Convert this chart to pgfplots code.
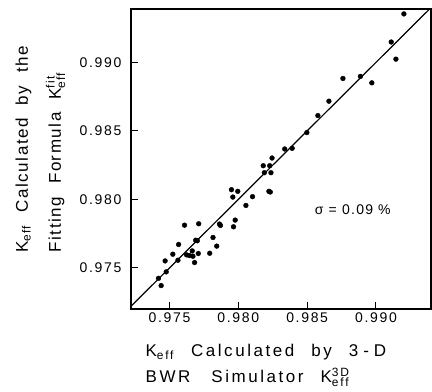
\documentclass[border=0pt]{standalone}
\usepackage{fontspec}
\setmainfont{Liberation Sans}[LetterSpace=9]
\newfontfamily\tickfont{Liberation Sans}[LetterSpace=12]
\newfontfamily\xlabfont{Liberation Sans}[LetterSpace=15]
\usepackage{pgfplots}
\pgfplotsset{compat=1.18}
\newcommand\sub[1]{\hbox{\fontsize{12}{12}\selectfont #1}}
\newcommand\gap{\hspace*{13pt}}
\newcommand\xgap{\hspace*{17pt}}
\begin{document}
\begin{tikzpicture}
\begin{axis}[
  width=300pt, height=300pt, scale only axis,
  xmin=0.9722, xmax=0.9940, ymin=0.9720, ymax=0.9939,
  xtick={0.975,0.980,0.985,0.990}, ytick={0.975,0.980,0.985,0.990},
  xticklabels={0.975,0.980,0.985,0.990}, yticklabels={0.975,0.980,0.985,0.990},
  tick align=inside, xtick pos=bottom, ytick pos=left, major tick length=7pt,
  axis line style={line width=1.2pt}, tick style={line width=1pt, black},
  tick label style={font=\tickfont\fontsize{14}{16}\selectfont},
  yticklabel style={xshift=-6pt},
  /pgf/number format/assume math mode=true,
  xlabel={K\textsubscript{eff}\xgap Calculated\xgap by\xgap 3\hspace*{5pt}-\hspace*{5pt}D\\BWR\xgap\hspace*{4pt}Simulator\xgap K$^{\sub{3D}}_{\sub{eff}}$},
  xlabel style={align=left, anchor=north west, at={(axis description cs:0.037,-0.105)}, font=\xlabfont\fontsize{17}{26}\selectfont},
  ylabel={K\textsubscript{eff}\gap Calculated\gap by\gap the\\Fitting\gap Formula\gap K$^{\sub{fit}}_{\sub{eff}}$},
  ylabel style={align=left, anchor=south west, at={(axis description cs:-0.207,0.177)}, font=\fontsize{17}{33}\selectfont},
]
\addplot[black, line width=1.2pt] coordinates {(0.972,0.972) (0.9945,0.9945)};
\addplot[only marks, mark=*, mark size=2.4pt, black] coordinates {
(0.99203,0.99354) (0.99111,0.99149) (0.99145,0.99024) (0.98760,0.98883)
(0.98887,0.98898) (0.98970,0.98851) (0.98658,0.98717) (0.98578,0.98612)
(0.98498,0.98488) (0.98337,0.98368) (0.98391,0.98373) (0.98245,0.98302)
(0.98181,0.98246) (0.98228,0.98246) (0.98189,0.98195) (0.98237,0.98195)
(0.98222,0.98059) (0.98232,0.98054) (0.97950,0.98071) (0.97996,0.98059)
(0.97960,0.98017) (0.98103,0.98020) (0.98055,0.97956) (0.97977,0.97849)
(0.97965,0.97800) (0.97863,0.97820) (0.97870,0.97810) (0.97712,0.97822)
(0.97609,0.97812) (0.97816,0.97722) (0.97843,0.97659) (0.97792,0.97607)
(0.97690,0.97702) (0.97702,0.97698) (0.97566,0.97671) (0.97524,0.97600)
(0.97468,0.97551) (0.97561,0.97556) (0.97624,0.97595) (0.97644,0.97590)
(0.97665,0.97624) (0.97670,0.97585) (0.97709,0.97605) (0.97682,0.97539)
(0.97476,0.97471) (0.97420,0.97424) (0.97439,0.97371)
};
\node[font=\fontsize{14}{16}\selectfont] at (axis cs:0.98832,0.97928) {σ = 0.09 \%};
\coordinate (sw) at (rel axis cs:0,0);
\coordinate (ne) at (rel axis cs:1,1);
\end{axis}
\pgfresetboundingbox
\path ([shift={(-131pt,-83pt)}]sw) rectangle ([shift={(1pt,9pt)}]ne);
\end{tikzpicture}
\end{document}
